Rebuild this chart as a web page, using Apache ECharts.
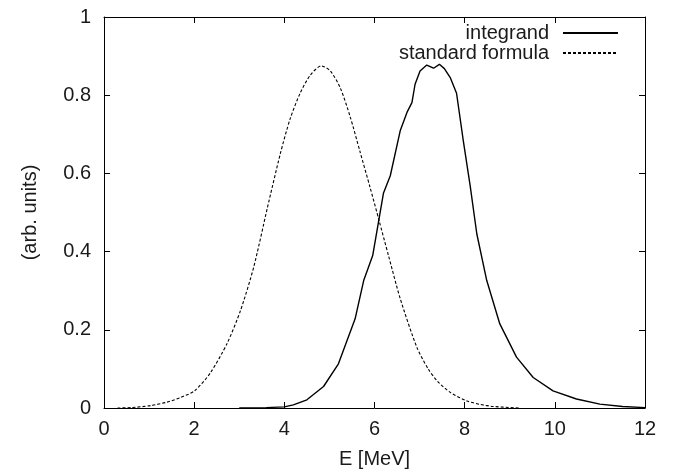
<!DOCTYPE html>
<html>
<head>
<meta charset="utf-8">
<script src="https://cdn.jsdelivr.net/npm/echarts@6/dist/echarts.min.js"></script>
<style>
  html, body { margin: 0; padding: 0; background: #fff; }
  #chart { width: 684px; height: 475px; }
</style>
</head>
<body>
<div id="chart"></div>
<script>
// energy grid [MeV] and values (arb. units)
const intE = [3.0, 3.6, 4.0, 4.2, 4.5, 4.87, 5.2, 5.57, 5.76, 5.96, 6.2, 6.35, 6.57, 6.72, 6.83, 6.9, 7.01, 7.16, 7.31, 7.44, 7.55, 7.68, 7.82, 7.97, 8.12, 8.27, 8.49, 8.78, 9.15, 9.52, 9.96, 10.48, 11.0, 11.5, 12.0]
const intVal = [0, 0.001, 0.003, 0.008, 0.021, 0.055, 0.113, 0.228, 0.326, 0.39, 0.55, 0.594, 0.709, 0.756, 0.781, 0.828, 0.862, 0.877, 0.869, 0.879, 0.868, 0.845, 0.805, 0.683, 0.57, 0.445, 0.326, 0.215, 0.13, 0.078, 0.044, 0.023, 0.01, 0.004, 0.001]

const stdE = [0.3, 0.6, 1.03, 1.4, 1.7, 2.01, 2.36, 2.73, 3.03, 3.32, 3.62, 3.91, 4.13, 4.35, 4.58, 4.82, 5.02, 5.24, 5.46, 5.68, 5.9, 6.1, 6.31, 6.57, 6.94, 7.19, 7.4, 7.68, 8.05, 8.35, 8.63, 9.2]
const stdVal = [0, 0.001, 0.006, 0.015, 0.027, 0.044, 0.09, 0.165, 0.25, 0.36, 0.51, 0.65, 0.74, 0.805, 0.852, 0.875, 0.862, 0.819, 0.745, 0.655, 0.565, 0.48, 0.39, 0.28, 0.155, 0.1, 0.068, 0.04, 0.018, 0.009, 0.004, 0]

const xTicks = { min: 0, max: 12, interval: 2 }
const yTicks = { min: 0, max: 1, interval: 0.2 }

const FONT = "'Liberation Sans', Arial, Helvetica, sans-serif"
const INK = '#000'
const TEXT = '#1a1a1a'

const chart = echarts.init(document.getElementById('chart'), null, { renderer: 'canvas' })

function frameAxis(extra) {
  return Object.assign({
    type: 'value',
    axisLine: { show: true, onZero: false, lineStyle: { color: INK, width: 1 } },
    axisTick: { show: true, inside: true, length: 6, lineStyle: { color: INK } },
    splitLine: { show: false },
  }, extra)
}

const labelStyle = { color: TEXT, fontSize: 20, fontFamily: FONT }

function legendFor(name, top) {
  return {
    data: [name],
    orient: 'vertical', align: 'right',
    right: 65, top, padding: 0,
    itemWidth: 55, itemHeight: 14,
    itemStyle: { opacity: 0 },
    textStyle: { color: TEXT, fontSize: 20, fontFamily: FONT, lineHeight: 20, padding: [0, 9, 0, 0] },
  }
}

chart.setOption({
  animation: false,
  backgroundColor: '#fff',
  grid: { left: 104, right: 39, top: 17, bottom: 67 },
  legend: [legendFor('integrand', 23), legendFor('standard formula', 43)],
  xAxis: [
    frameAxis({
      ...xTicks,
      position: 'bottom',
      name: 'E [MeV]',
      nameLocation: 'middle',
      nameGap: 41,
      nameTextStyle: labelStyle,
      axisLabel: { ...labelStyle, margin: 11 },
    }),
    frameAxis({ ...xTicks, position: 'top', axisLabel: { show: false } }),
  ],
  yAxis: [
    frameAxis({
      ...yTicks,
      position: 'left',
      name: '(arb. units)',
      nameLocation: 'middle',
      nameGap: 64,
      nameTextStyle: labelStyle,
      axisLabel: { ...labelStyle, margin: 13 },
    }),
    frameAxis({ ...yTicks, position: 'right', axisLabel: { show: false } }),
  ],
  series: [
    {
      name: 'integrand',
      type: 'line',
      data: intE.map((e, i) => [e, intVal[i]]),
      symbol: 'none',
      lineStyle: { color: INK, width: 1.4 },
      itemStyle: { color: INK },
    },
    {
      name: 'standard formula',
      type: 'line',
      data: stdE.map((e, i) => [e, stdVal[i]]),
      symbol: 'none',
      smooth: 0.25,
      lineStyle: { color: INK, width: 1.1, type: [3, 2] },
      itemStyle: { color: INK },
    },
  ],
})
</script>
</body>
</html>
